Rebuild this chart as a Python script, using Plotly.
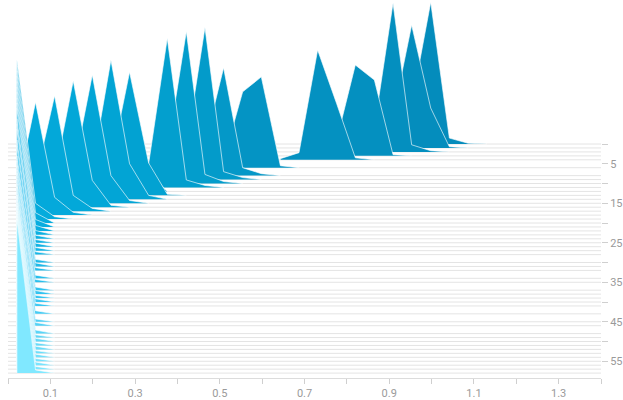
import plotly.graph_objects as go

# Histogram bin centres shared by every step
BIN_CENTERS = [0.021, 0.065, 0.110, 0.154, 0.199, 0.243, 0.287, 0.332, 0.376, 0.421,
               0.465, 0.509, 0.554, 0.598, 0.643, 0.687, 0.731, 0.776, 0.820, 0.865,
               0.909, 0.953, 0.998, 1.042, 1.086, 1.131, 1.175, 1.220, 1.264, 1.308,
               1.353, 1.397]

# Recorded steps (a few steps were not logged)
STEPS = [0, 1, 2, 3, 4, 6, 8, 9, 10, 11, 12, 13, 14, 15, 16, 17, 18, 19, 20, 21, 22,
         23, 24, 25, 26, 27, 28, 30, 31, 32, 34, 35, 37, 38, 39, 40, 41, 43, 45, 46,
         48, 49, 50, 51, 52, 53, 54, 55, 56, 57, 58]

# Index of the first bin listed for each step
START_BIN = [19, 19, 18, 16, 14, 10, 9, 8, 7, 6, 4, 4, 3, 2, 1, 0, 0, 0, 0, 0, 0,
             0, 0, 0, 0, 0, 0, 0, 0, 0, 0, 0, 0, 0, 0, 0, 0, 0, 0, 0,
             0, 0, 0, 0, 0, 0, 0, 0, 0, 0, 0]

# Bin counts from START_BIN onwards (all other bins are empty)
COUNTS = [
    [0.3, 2.0, 10.0, 35.9, 1.5, 0.2, 0],
    [1.5, 8.0, 31.1, 10.1, 0.3, 0],
    [1.0, 6.3, 37.7, 1.8, 0.3, 0],
    [0.5, 4.0, 23.0, 19.2, 0.3, 0],
    [0.3, 1.8, 27.8, 14.2, 0.5, 0],
    [0.3, 2.0, 19.2, 23.0, 0.5, 0],
    [1.0, 8.0, 27.3, 2.0, 0.5, 0],
    [1.0, 8.0, 38.5, 2.0, 0.5, 0],
    [1.0, 8.0, 38.5, 2.3, 0.5, 0],
    [1.0, 6.0, 37.8, 1.9, 0.5, 0],
    [0.5, 4.0, 18.0, 5.0, 0],
    [1.0, 8.0, 31.2, 8.2, 0.3, 0],
    [1.0, 8.0, 35.3, 9.0, 1.0, 0],
    [1.0, 8.0, 32.5, 7.0, 0.7, 0],
    [1.0, 8.0, 32.0, 6.8, 0.5, 0],
    [1.0, 8.0, 29.2, 4.0, 0.7, 0],
    [6.0, 28.6, 4.5, 0.7, 0],
    [40.3, 4.0, 0.6, 0],
    [39.8, 2.6, 0],
    [39.5, 1.9, 0],
    [39.1, 1.4, 0],
    [38.8, 1.1, 0],
    [38.4, 0.9, 0],
    [38.1, 0.8, 0],
    [37.7, 0.9, 0],
    [37.4, 0.8, 0],
    [37.0, 0.7, 0],
    [36.4, 0.8, 0],
    [36.0, 0.9, 0],
    [35.7, 0.7, 0],
    [35.0, 0.8, 0],
    [34.6, 0.7, 0],
    [34.0, 0.8, 0],
    [33.7, 0.9, 0],
    [33.5, 0.7, 0],
    [33.4, 0.8, 0],
    [33.6, 0.7, 0],
    [34.2, 0.8, 0],
    [34.9, 0.7, 0],
    [35.2, 0.8, 0],
    [35.8, 0.9, 0],
    [36.1, 0.7, 0],
    [36.5, 0.8, 0],
    [36.8, 0.7, 0],
    [37.1, 0.8, 0],
    [37.4, 0.7, 0],
    [37.7, 0.8, 0],
    [38.0, 0.7, 0],
    [38.4, 0.8, 0],
    [38.7, 0.7, 0],
    [39.0, 0.8, 0],
]

X_TICKS = [0.0, 0.1, 0.2, 0.3, 0.4, 0.5, 0.6, 0.7, 0.8, 0.9, 1.0, 1.1, 1.2, 1.3, 1.4]
X_LABELS = ["", "0.1", "", "0.3", "", "0.5", "", "0.7", "", "0.9", "", "1.1", "", "1.3", ""]
Y_TICKS = [0, 5, 10, 15, 20, 25, 30, 35, 40, 45, 50, 55]
Y_LABELS = ["", "5", "", "15", "", "25", "", "35", "", "45", "", "55"]

# Colour ramp: older steps dark, newer steps light
COLOR_STOPS = [(0, (4, 140, 188)), (6, (4, 148, 196)), (10, (3, 157, 204)),
               (16, (2, 167, 216)), (25, (12, 178, 228)), (40, (56, 198, 242)),
               (58, (128, 232, 255))]


def step_color(step):
    for (s0, c0), (s1, c1) in zip(COLOR_STOPS[:-1], COLOR_STOPS[1:]):
        if s0 <= step <= s1:
            t = (step - s0) / (s1 - s0) if s1 > s0 else 0
            r, g, b = (round(a + (bb - a) * t) for a, bb in zip(c0, c1))
            return f"rgb({r},{g},{b})"
    r, g, b = COLOR_STOPS[-1][1]
    return f"rgb({r},{g},{b})"


fig = go.Figure()

# Back-to-front: earliest step first so later steps overlap it
for step, start, counts in zip(STEPS, START_BIN, COUNTS):
    # thin zero line across the whole value range
    fig.add_trace(go.Scatter(
        x=[X_TICKS[0], X_TICKS[-1]], y=[step, step], mode="lines",
        line=dict(color="#e4e4e4", width=1), hoverinfo="skip", showlegend=False))
    xs = BIN_CENTERS[start:start + len(counts)]
    px = [xs[0]] + xs + [xs[-1]]
    py = [step] + [step - c for c in counts] + [step]
    fig.add_trace(go.Scatter(
        x=px, y=py, mode="lines", fill="toself",
        fillcolor=step_color(step),
        line=dict(color="rgba(255,255,255,0.62)", width=1),
        hoverinfo="skip", showlegend=False))

axis_font = dict(family="Roboto, sans-serif", size=11, color="#9a9a9a")

fig.update_layout(
    width=623, height=400,
    margin=dict(l=8, r=20, t=0, b=22),
    paper_bgcolor="white", plot_bgcolor="white",
    xaxis=dict(range=[0, 1.4], tickvals=X_TICKS, ticktext=X_LABELS,
               ticks="outside", ticklen=5, tickcolor="#cfcfcf",
               showline=True, linecolor="#dcdcdc", linewidth=1,
               showgrid=False, zeroline=False, tickfont=axis_font),
    yaxis=dict(range=[59.24, -36.46], side="right", tickvals=Y_TICKS, ticktext=Y_LABELS,
               ticks="outside", ticklen=6, tickcolor="#cfcfcf",
               showline=False, showgrid=False, zeroline=False, tickfont=axis_font),
)

fig.write_html("out.html")
